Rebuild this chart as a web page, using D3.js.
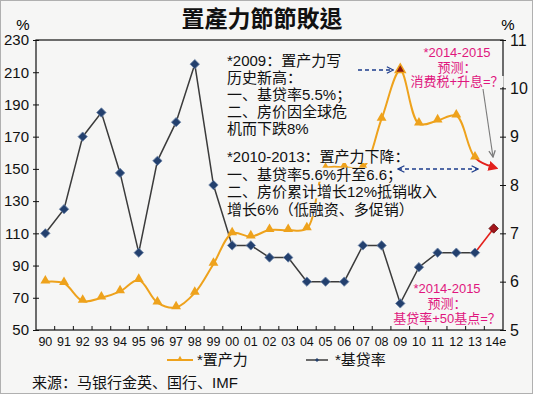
<!DOCTYPE html>
<html>
<head>
<meta charset="utf-8">
<script src="https://cdn.jsdelivr.net/npm/d3@7"></script>
<style>
  html, body { margin: 0; padding: 0; background: #f6f6f5; }
  svg { display: block; font-family: "Liberation Sans", "Noto Sans CJK SC", sans-serif; }
</style>
</head>
<body>
<svg id="chart" width="533" height="394"></svg>
<script>
// data
var years = ['90','91','92','93','94','95','96','97','98','99','00','01','02',
    '03','04','05','06','07','08','09','10','11','12','13','14e'];
// 置产力 (%), left axis
var affordability = [80, 79, 68, 70, 74, 81, 67, 64, 73, 91, 110, 108, 112,
    112, 113, 150, 151, 151, 181, 211, 178, 180, 183, 157, 151];
// 基贷率 (%), right axis
var baseRate = [7.0, 7.5, 9.0, 9.5, 8.25, 6.6, 8.5, 9.3, 10.5, 8.0, 6.75, 6.75, 6.5,
    6.5, 6.0, 6.0, 6.0, 6.75, 6.75, 5.55, 6.3, 6.6, 6.6, 6.6, 7.1];
var leftTicks = [50, 70, 90, 110, 130, 150, 170, 190, 210, 230];
var rightTicks = [5, 6, 7, 8, 9, 10, 11];

var svg = d3.select('#chart');
var W = 533, H = 394;
var plotL = 36, plotR = 503, plotT = 40, plotB = 330;

var bg = '#f6f6f5';
var orange = '#eea21c', red = '#e3201b', navy = '#23406e', pink = '#e0167e';

svg.append('rect')
    .attr('x', 0.5).attr('y', 0.5)
    .attr('width', W - 1).attr('height', H - 1)
    .attr('fill', bg)
    .attr('stroke', '#b0b0b0');

var x = d3.scaleBand().domain(years).range([plotL, plotR]);
var yL = d3.scaleLinear().domain([50, 230]).range([plotB, plotT]);
var yR = d3.scaleLinear().domain([5, 11]).range([plotB, plotT]);

function cx(d) {
    return x(d) + x.bandwidth() / 2;
}

var defs = svg.append('defs');
defs.append('marker')
    .attr('id', 'redHead')
    .attr('viewBox', '0 0 10 10')
    .attr('refX', 5).attr('refY', 5)
    .attr('markerWidth', 10).attr('markerHeight', 10)
    .attr('markerUnits', 'userSpaceOnUse')
    .attr('orient', 'auto')
    .append('path')
    .attr('d', 'M0,0 L10,5 L0,10 z')
    .attr('fill', red);

function openHead(id, color) {
    defs.append('marker')
        .attr('id', id)
        .attr('viewBox', '0 0 10 10')
        .attr('refX', 9).attr('refY', 5)
        .attr('markerWidth', 8).attr('markerHeight', 8)
        .attr('markerUnits', 'userSpaceOnUse')
        .attr('orient', 'auto-start-reverse')
        .append('path')
        .attr('d', 'M1,1 L9,5 L1,9')
        .attr('fill', 'none')
        .attr('stroke', color)
        .attr('stroke-width', 1.6);
}
openHead('blueHead', '#1d3c8c');
openHead('grayHead', '#7a7a7a');

// clip regions to split the smoothed line at 2013
var splitX = cx('13');
defs.append('clipPath').attr('id', 'clipA')
    .append('rect').attr('x', 0).attr('y', 0).attr('width', splitX).attr('height', H);
defs.append('clipPath').attr('id', 'clipB')
    .append('rect').attr('x', splitX).attr('y', 0).attr('width', W - splitX).attr('height', H);

// title and units
svg.append('text')
    .attr('x', 262).attr('y', 27)
    .attr('text-anchor', 'middle')
    .style('font-family', '"Noto Sans CJK TC", sans-serif')
    .style('font-weight', 'bold')
    .style('font-size', '23px')
    .attr('fill', '#111')
    .text('置產力節節敗退');

svg.append('text').attr('x', 23).attr('y', 30).attr('text-anchor', 'middle')
    .style('font-size', '15px').text('%');
svg.append('text').attr('x', 508).attr('y', 30).attr('text-anchor', 'middle')
    .style('font-size', '15px').text('%');

// frame
svg.append('rect')
    .attr('x', plotL).attr('y', plotT)
    .attr('width', plotR - plotL).attr('height', plotB - plotT)
    .attr('fill', 'none')
    .attr('stroke', '#111')
    .attr('stroke-width', 1.2);

// left axis
var gL = svg.append('g')
    .attr('transform', 'translate(' + plotL + ',0)')
    .call(d3.axisLeft(yL).tickValues(leftTicks).tickSize(3).tickPadding(4));
gL.select('.domain').remove();
gL.selectAll('.tick line').attr('x1', 3).attr('stroke', '#111');
gL.selectAll('.tick text')
    .style('font-size', '15px')
    .style('font-family', '"Liberation Sans", sans-serif')
    .attr('fill', '#111');

// right axis
var gR = svg.append('g')
    .attr('transform', 'translate(' + plotR + ',0)')
    .call(d3.axisRight(yR).tickValues(rightTicks).tickFormat(d3.format('d'))
        .tickSize(3).tickPadding(4));
gR.select('.domain').remove();
gR.selectAll('.tick line').attr('x1', -3).attr('stroke', '#111');
gR.selectAll('.tick text')
    .style('font-size', '16px')
    .style('font-family', '"Liberation Sans", sans-serif')
    .attr('fill', '#111');

// bottom axis: labels at band centres, ticks at band edges
var gB = svg.append('g')
    .attr('transform', 'translate(0,' + plotB + ')')
    .call(d3.axisBottom(x).tickSize(0).tickPadding(7));
gB.select('.domain').remove();
gB.selectAll('.tick text')
    .style('font-size', '12.5px')
    .style('font-family', '"Liberation Sans", sans-serif')
    .attr('fill', '#111')
    .attr('dx', function(d) { return d === '14e' ? 2 : 0; });

svg.append('g')
    .selectAll('line')
    .data(years.slice(1))
    .join('line')
    .attr('x1', function(d) { return x(d); })
    .attr('x2', function(d) { return x(d); })
    .attr('y1', plotB - 4)
    .attr('y2', plotB)
    .attr('stroke', '#111');

// base rate line
var pts = years.map(function(d, i) {
    return { year: d, a: affordability[i], r: baseRate[i] };
});
var last = pts.length - 1;

var rateLine = d3.line()
    .x(function(d) { return cx(d.year); })
    .y(function(d) { return yR(d.r); });

svg.append('path')
    .datum(pts.slice(0, last))
    .attr('d', rateLine)
    .attr('fill', 'none')
    .attr('stroke', '#3b3b3b')
    .attr('stroke-width', 1.5);

svg.append('path')
    .datum(pts.slice(last - 1))
    .attr('d', rateLine)
    .attr('fill', 'none')
    .attr('stroke', red)
    .attr('stroke-width', 1.6);

svg.append('g')
    .selectAll('path')
    .data(pts)
    .join('path')
    .attr('transform', function(d) {
        return 'translate(' + cx(d.year) + ',' + yR(d.r) + ') rotate(45)';
    })
    .attr('d', d3.symbol().type(d3.symbolSquare).size(44))
    .attr('fill', function(d, i) { return i === last ? '#a3141a' : navy; })
    .attr('stroke', function(d, i) { return i === last ? '#5a0a0a' : '#6d84a8'; })
    .attr('stroke-width', 0.8);

// affordability line (smoothed), orange up to 2013 then red
var affLine = d3.line()
    .x(function(d) { return cx(d.year); })
    .y(function(d) { return yL(d.a); })
    .curve(d3.curveCatmullRom.alpha(0.5));

svg.append('path')
    .datum(pts)
    .attr('d', affLine)
    .attr('clip-path', 'url(#clipA)')
    .attr('fill', 'none')
    .attr('stroke', orange)
    .attr('stroke-width', 2);

svg.append('path')
    .datum(pts.slice(last - 2))
    .attr('d', affLine)
    .attr('clip-path', 'url(#clipB)')
    .attr('fill', 'none')
    .attr('stroke', red)
    .attr('stroke-width', 2)
    .attr('marker-end', 'url(#redHead)');

var tri = d3.symbol().type(d3.symbolTriangle).size(42);
svg.append('g')
    .selectAll('path')
    .data(pts.slice(0, last))
    .join('path')
    .attr('transform', function(d) {
        return 'translate(' + cx(d.year) + ',' + (yL(d.a) - 1) + ')';
    })
    .attr('d', tri)
    .attr('fill', function(d) { return d.year === '09' ? '#8e1a10' : orange; })
    .attr('stroke', orange)
    .attr('stroke-width', function(d) { return d.year === '09' ? 1.5 : 0; });

// annotations
var note1 = ['*2009：置产力写', '历史新高：', '一、基贷率5.5%；', '二、房价因全球危', '机而下跌8%'];
var note2 = ['*2010-2013：置产力下降：', '一、基贷率5.6%升至6.6；',
    '二、房价累计增长12%抵销收入', '增长6%（低融资、多促销）'];
var note3 = ['*2014-2015', '预测：', '消费税+升息=？'];
var note4 = ['*2014-2015', '预测：', '基贷率+50基点=？'];

// one text per line, each on a patch of background so lines behind are hidden
function textBlock(lines, x0, y0, dy, anchor, color, size) {
    var g = svg.append('g');
    lines.forEach(function(line, i) {
        var t = g.append('text')
            .attr('x', x0)
            .attr('y', y0 + i * dy)
            .attr('text-anchor', anchor)
            .attr('fill', color)
            .style('font-size', size + 'px')
            .text(line);
        var b = t.node().getBBox();
        g.insert('rect', function() { return t.node(); })
            .attr('x', b.x)
            .attr('y', b.y + 2)
            .attr('width', b.width)
            .attr('height', b.height - 4)
            .attr('fill', bg);
    });
}

textBlock(note1, 227, 66, 17, 'start', '#111', 15);
textBlock(note2, 227, 162, 17.7, 'start', '#111', 15);
textBlock(note3, 457, 57, 14.5, 'middle', pink, 13);
textBlock(note4, 447, 293, 15, 'middle', pink, 13);

// blue dashed arrows
svg.append('line')
    .attr('x1', 358).attr('y1', 70)
    .attr('x2', cx('09') - 7).attr('y2', 70)
    .attr('stroke', '#1d3c8c')
    .attr('stroke-width', 1.5)
    .attr('stroke-dasharray', '4,3')
    .attr('marker-end', 'url(#blueHead)');

svg.append('line')
    .attr('x1', 398).attr('y1', 169)
    .attr('x2', 478).attr('y2', 169)
    .attr('stroke', '#1d3c8c')
    .attr('stroke-width', 1.5)
    .attr('stroke-dasharray', '4,3')
    .attr('marker-start', 'url(#blueHead)')
    .attr('marker-end', 'url(#blueHead)');

// grey arrow to the 2014e forecast
svg.append('line')
    .attr('x1', 483).attr('y1', 89)
    .attr('x2', 493).attr('y2', 157)
    .attr('stroke', '#7a7a7a')
    .attr('stroke-width', 1.1)
    .attr('marker-end', 'url(#grayHead)');

// legend
var lg = svg.append('g').attr('transform', 'translate(0,360)');
lg.append('line').attr('x1', 167).attr('x2', 193).attr('y1', 0).attr('y2', 0)
    .attr('stroke', orange).attr('stroke-width', 2);
lg.append('path').attr('transform', 'translate(180,-1)')
    .attr('d', d3.symbol().type(d3.symbolTriangle).size(14)).attr('fill', orange);
lg.append('text').attr('x', 197).attr('y', 5).style('font-size', '15px')
    .attr('fill', '#111').text('*置产力');

lg.append('line').attr('x1', 306).attr('x2', 328).attr('y1', 0).attr('y2', 0)
    .attr('stroke', '#3b3b3b').attr('stroke-width', 1.5);
lg.append('path').attr('transform', 'translate(317,0) rotate(45)')
    .attr('d', d3.symbol().type(d3.symbolSquare).size(8)).attr('fill', navy);
lg.append('text').attr('x', 335).attr('y', 5).style('font-size', '15px')
    .attr('fill', '#111').text('*基贷率');

// source
svg.append('text')
    .attr('x', 32).attr('y', 388)
    .style('font-size', '15px')
    .attr('fill', '#111')
    .text('来源：马银行金英、国行、IMF');
</script>
</body>
</html>
